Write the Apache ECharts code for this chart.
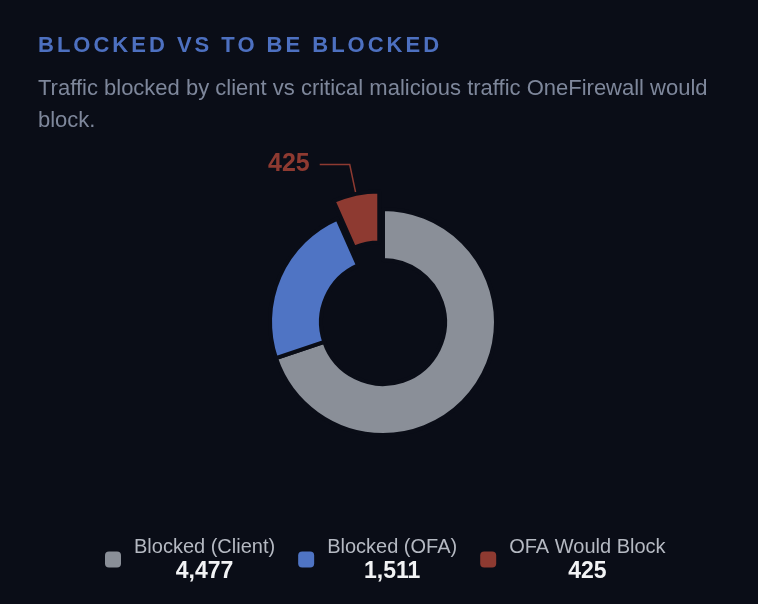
<!DOCTYPE html>
<html>
<head>
<meta charset="utf-8">
<script src="https://cdn.jsdelivr.net/npm/echarts@6/dist/echarts.min.js"></script>
<style>
  html, body { margin: 0; padding: 0; background: #0a0d17; width: 758px; height: 604px; overflow: hidden; }
  #chart { position: absolute; left: 0; top: 0; width: 758px; height: 604px; }
  .hdr { position: absolute; left: 38px; font-family: "Liberation Sans", Arial, sans-serif; z-index: 2; }
  #title { top: 32px; font-size: 22px; font-weight: bold; letter-spacing: 3px; color: #4d70c0; }
  #subtitle { top: 72px; width: 690px; font-size: 22px; line-height: 32px; color: #7e879b; }
</style>
</head>
<body>
<div id="title" class="hdr">BLOCKED VS TO BE BLOCKED</div>
<div id="subtitle" class="hdr">Traffic blocked by client vs critical malicious traffic OneFirewall would block.</div>
<div id="chart"></div>
<script>
const categories = ["Blocked (Client)", "Blocked (OFA)", "OFA Would Block"];
const values = [4477, 1511, 425];
const colors = ["#8a8f98", "#4f74c4", "#8e3a31"];
const highlighted = "OFA Would Block";

const fmt = v => v.toLocaleString("en-US");
const chart = echarts.init(document.getElementById("chart"));
const data = categories.map((name, i) => ({
  name: name,
  value: values[i],
  selected: name === highlighted,
  itemStyle: { color: colors[i] },
  label: { show: name === highlighted },
  labelLine: { show: name === highlighted }
}));

chart.setOption({
  backgroundColor: "#0a0d17",
  animation: false,
  legend: {
    top: 537,
    left: 105,
    padding: 0,
    itemWidth: 16,
    itemHeight: 16,
    itemGap: 23,
    icon: "roundRect",
    itemStyle: { borderWidth: 0 },
    selectedMode: false,
    data: categories,
    formatter: function (name) {
      const i = categories.indexOf(name);
      return "{n|" + name + "}\n{v|" + fmt(values[i]) + "}";
    },
    textStyle: {
      padding: [0, 0, 0, 8],
      rich: {
        n: { fontFamily: "Liberation Sans", fontSize: 20, color: "#b5b9c2", align: "center", lineHeight: 25 },
        v: { fontFamily: "Liberation Sans", fontSize: 23, fontWeight: "bold", color: "#f2f3f5", align: "center", lineHeight: 25 }
      }
    }
  },
  series: [{
    type: "pie",
    center: [383, 322],
    radius: [62, 113],
    startAngle: 90,
    clockwise: true,
    selectedMode: "single",
    selectedOffset: 18,
    avoidLabelOverlap: false,
    itemStyle: { borderColor: "#0a0d17", borderWidth: 4 },
    emphasis: { disabled: true },
    label: {
      position: "outside",
      formatter: p => fmt(p.value),
      fontFamily: "Liberation Sans",
      fontSize: 25,
      fontWeight: "bold",
      color: "#8e3a31",
      distanceToLabelLine: 10
    },
    labelLine: {
      length: 30,
      length2: 30,
      lineStyle: { color: "#8e3a31", width: 1.5 }
    },
    data: data
  }]
});
</script>
</body>
</html>
